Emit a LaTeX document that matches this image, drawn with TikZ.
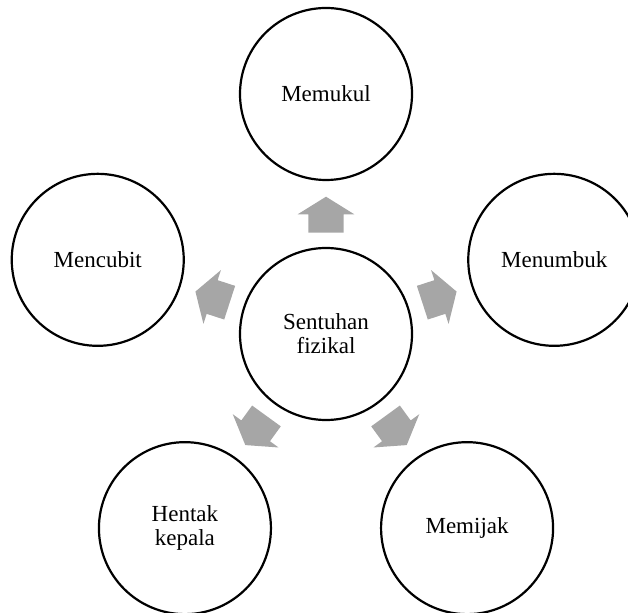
\documentclass[tikz,border=0pt]{standalone}
\usepackage{fontspec}
\setmainfont{Liberation Serif}
\usetikzlibrary{calc}
\definecolor{arrowgray}{RGB}{166,166,166}
\tikzset{
  bub/.style={circle, draw=black, line width=2.2pt, fill=white, minimum size=172pt, inner sep=0pt,
    align=center, font=\fontsize{23}{24}\selectfont},
  blockarr/.pic={\fill[arrowgray] (101.3,-17.7) -- (119.7,-17.7) -- (119.7,-28.3) -- (137.3,0)
     -- (119.7,28.3) -- (119.7,17.7) -- (101.3,17.7) -- cycle;}
}
\begin{document}
\begin{tikzpicture}[x=1pt,y=1pt]
\useasboundingbox (0,0) rectangle (628,612);
\clip (0,0) rectangle (628,612);
\node[bub] (c) at (326,278) {Sentuhan\\fizikal};
\node[bub] (n1) at ($(c)+(90:240)$) {Memukul};
\node[bub] (n2) at ($(c)+(18:240)$) {Menumbuk};
\node[bub] (n3) at ($(c)+(-54:240)$) {Memijak};
\node[bub] (n4) at ($(c)+(-126:240)$) {Hentak\\kepala};
\node[bub] (n5) at ($(c)+(162:240)$) {Mencubit};
\foreach \a in {90,18,-54,-126,162}
  \pic[rotate=\a] at (c) {blockarr};
\end{tikzpicture}
\end{document}
